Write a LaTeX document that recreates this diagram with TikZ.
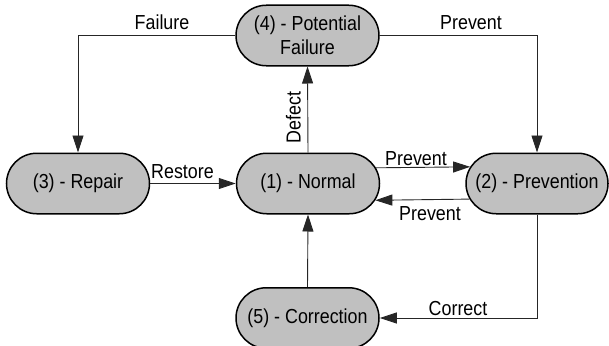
\documentclass[tikz,border=0pt]{standalone}
\usepackage{fontspec}
\setmainfont{Liberation Sans}[FakeStretch=0.88]
\usetikzlibrary{arrows.meta,shapes.misc}
\definecolor{stategray}{RGB}{192,192,192}
\begin{document}
\begin{tikzpicture}[x=1pt,y=-1pt,
  state/.style={rounded rectangle, draw=black, line width=1.5pt, fill=stategray,
    minimum width=143pt, minimum height=60.5pt, inner sep=0pt, align=center,
    font=\fontsize{20.3}{24}\selectfont},
  flow/.style={draw=black!85, line width=0.9pt, -{Triangle[length=17pt,width=11pt]}},
  lbl/.style={font=\fontsize{20.3}{24}\selectfont, inner sep=0pt, anchor=base}]
\useasboundingbox (0,0) rectangle (609,345);

% states
\node[state] (n4) at (307.5,35.5) {(4) - Potential\\Failure};
\node[state] (n1) at (308,183.5) {(1) - Normal};
\node[state] (n3) at (78,183.5) {(3) - Repair};
\node[state, minimum width=142pt] (n2) at (537,183.5) {(2) - Prevention};
\node[state] (n5) at (307.5,318) {(5) - Correction};

% transitions
\draw[flow] (n4.west) -| (n3.north);
\draw[flow] (n4.east) -| (n2.north);
\draw[flow] (n1.north) -- (n4.south);
\draw[flow] (n3.east) -- (n1.west);
\draw[flow] (n1.13.3) -- (n2.166.7);
\draw[flow] (n2.193.3) -- (n1.346.7);
\draw[flow] (n5.north) -- (n1.south);
\draw[flow] (n2.south) |- (n5.east);

% transition labels
\node[lbl] (lfail) at (162,29.5) {Failure};
\node[lbl] (lprev) at (471,29.5) {Prevent};
\node[lbl, rotate=90] (ldef) at (300.5,117.5) {Defect};
\node[lbl] (lrest) at (182.5,178.3) {Restore};
\node[lbl] (lpa) at (416,165.5) {Prevent};
\node[lbl] (lpb) at (430,220) {Prevent};
\node[lbl] (lcorr) at (458,315) {Correct};
\end{tikzpicture}
\end{document}
